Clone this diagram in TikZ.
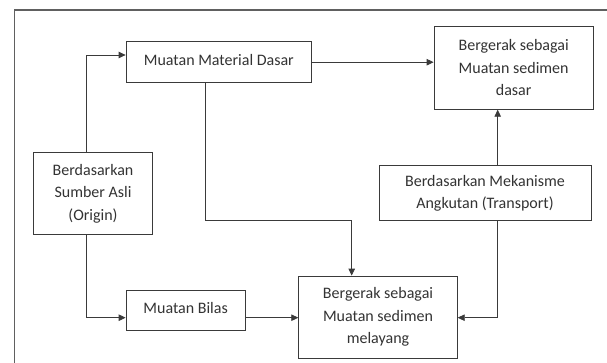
\documentclass[tikz,border=0pt]{standalone}
\usepackage{fontspec}
\setmainfont{Carlito}
\usetikzlibrary{arrows.meta,calc}
\definecolor{linec}{HTML}{3A3A3A}
\definecolor{framec}{HTML}{606060}
\definecolor{textc}{HTML}{333333}
\tikzset{
  box/.style={draw=linec, line width=0.8pt, fill=white, align=center, text=textc,
    font=\fontsize{16}{22.5}\selectfont, inner sep=0pt},
  arr/.style={draw=linec, line width=0.8pt, -{Triangle[length=7pt,width=6.5pt]}},
  frameline/.style={draw=framec, line width=1.1pt}
}
\begin{document}
\begin{tikzpicture}[x=1pt,y=-1pt]
\useasboundingbox (0,0) rectangle (607,363);
\fill[white] (0,0) rectangle (607,363);
\draw[frameline] (14.7,370) -- (14.7,10) -- (615,10);

\node[box, minimum width=185.7pt, minimum height=41pt, text depth=4pt] (mmd) at (218.85,62.2) {Muatan Material Dasar};
\node[box, minimum width=159.3pt, minimum height=82.6pt] (dasar) at (513.65,68) {Bergerak sebagai\\Muatan sedimen\\dasar};
\node[box, minimum width=119.4pt, minimum height=82.7pt] (origin) at (93,193.35) {Berdasarkan\\Sumber Asli\\(Origin)};
\node[box, minimum width=212pt, minimum height=55pt] (transport) at (485,193.2) {Berdasarkan Mekanisme\\Angkutan (Transport)};
\node[box, minimum width=119.3pt, minimum height=40.7pt, text depth=4pt] (bilas) at (185.65,310.35) {Muatan Bilas};
\node[box, minimum width=158.6pt, minimum height=82.3pt] (melayang) at (378,317.15) {Bergerak sebagai\\Muatan sedimen\\melayang};

\coordinate (c1) at (86,55);
\coordinate (c2) at (205.3,220);
\coordinate (c3) at (351.7,220);
\coordinate (c4) at (86,317.7);
\coordinate (c5) at (497.7,317.7);

\draw[arr] (c1 |- origin.north) |- (mmd.west |- c1);
\draw[arr] (mmd.east) -- (mmd.east -| dasar.west);
\draw[arr] (c2 |- mmd.south) -- (c2) -- (c3) -- (c3 |- melayang.north);
\draw[arr] (c4 |- origin.south) |- (bilas.west |- c4);
\draw[arr] (bilas.east |- c4) -- (melayang.west |- c4);
\draw[arr] (c5 |- transport.south) |- (melayang.east |- c5);
\draw[arr] (c5 |- transport.north) -- (c5 |- dasar.south);
\end{tikzpicture}
\end{document}
